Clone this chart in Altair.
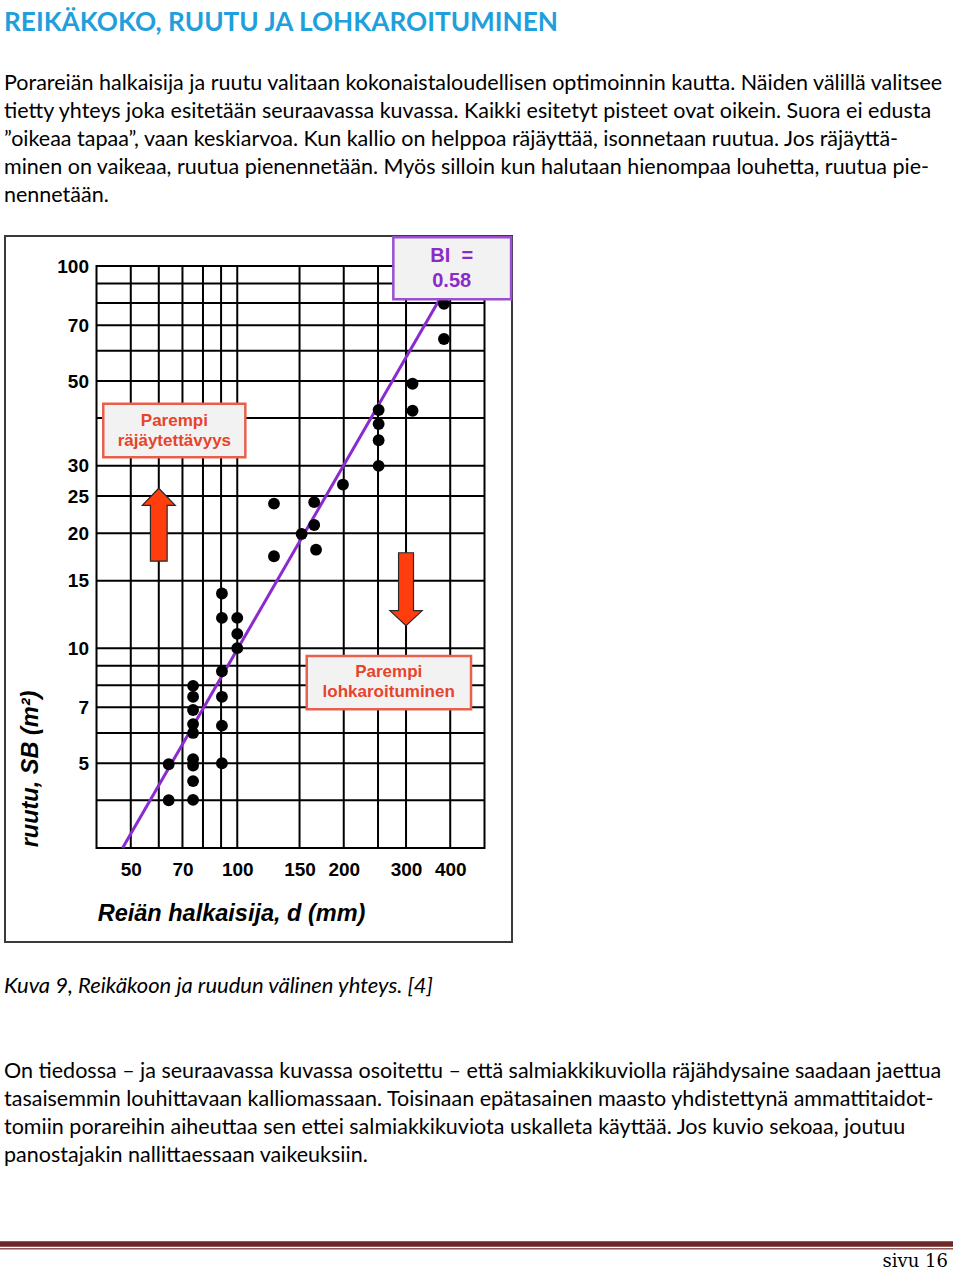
import altair as alt
import pandas as pd

# ---------------- data ----------------
d_mm = [384, 384, 313, 313, 251, 251, 251, 251, 199, 127, 127, 165, 165, 167, 152,
        90.5, 90.5, 100, 100, 100, 90.5, 90.5, 90.5, 90.5,
        75, 75, 75, 75, 75, 75, 75, 75, 75, 64, 64]
sb_m2 = [79.6, 64.4, 49.2, 41.8, 42.0, 38.6, 35.0, 30.0, 26.8, 23.9, 17.4, 24.1, 21.0, 18.1, 19.9,
         13.9, 12.0, 12.0, 10.9, 10.0, 8.7, 7.46, 6.27, 5.0,
         7.97, 7.46, 6.89, 6.33, 6.0, 5.12, 4.93, 4.49, 4.01, 4.97, 4.0]

trend_d = [47.4, 423]
trend_sb = [3, 100]

x_labels = [50, 70, 100, 150, 200, 300, 400]
x_grid = [50, 60, 70, 80, 90, 100, 150, 200, 250, 300, 400]
y_labels = [5, 7, 10, 15, 20, 25, 30, 50, 70, 100]
y_grid = [4, 5, 6, 7, 8, 9, 10, 15, 20, 25, 30, 40, 50, 60, 70, 80, 90]

title_text = "REIKÄKOKO, RUUTU JA LOHKAROITUMINEN"
para1 = [
    "Porareiän halkaisija ja ruutu valitaan kokonaistaloudellisen optimoinnin kautta. Näiden välillä valitsee",
    "tietty yhteys joka esitetään seuraavassa kuvassa. Kaikki esitetyt pisteet ovat oikein. Suora ei edusta",
    "”oikeaa tapaa”, vaan keskiarvoa. Kun kallio on helppoa räjäyttää, isonnetaan ruutua. Jos räjäyttä-",
    "minen on vaikeaa, ruutua pienennetään. Myös silloin kun halutaan hienompaa louhetta, ruutua pie-",
    "nennetään.",
]
caption = "Kuva 9, Reikäkoon ja ruudun välinen yhteys. [4]"
para2 = [
    "On tiedossa – ja seuraavassa kuvassa osoitettu – että salmiakkikuviolla räjähdysaine saadaan jaettua",
    "tasaisemmin louhittavaan kalliomassaan. Toisinaan epätasainen maasto yhdistettynä ammattitaidot-",
    "tomiin porareihin aiheuttaa sen ettei salmiakkikuviota uskalleta käyttää. Jos kuvio sekoaa, joutuu",
    "panostajakin nallittaessaan vaikeuksiin.",
]
page_label = "sivu 16"
x_title = "Reiän halkaisija, d (mm)"
y_title = "ruutu, SB (m²)"

# annotation boxes (data coordinates)
box_x1 = [276.2, 41.8, 157.2]
box_x2 = [594.4, 105.4, 458.0]
box_y1 = [81.8, 31.6, 6.92]
box_y2 = [118.9, 43.6, 9.54]
box_stroke = ["#9a4fd0", "#e8604c", "#e8604c"]

ann_text = ["BI \u00a0=", "0.58", "Parempi", "räjäytettävyys", "Parempi", "lohkaroituminen"]
ann_x = [403.9, 403.9, 66.4, 66.4, 268.0, 268.0]
ann_y = [106.2, 91.4, 39.4, 34.9, 8.65, 7.67]
ann_color = ["#8a2bc8", "#8a2bc8", "#e8432b", "#e8432b", "#e8432b", "#e8432b"]
ann_size = [20, 20, 17, 17, 17, 17]

arrow_x = [60, 300]
arrow_y = [21.04, 14.26]
UP = "M0,-1L0.452,-0.53L0.229,-0.53L0.229,1L-0.229,1L-0.229,-0.53L-0.452,-0.53Z"
DOWN = "M-0.205,-1L0.205,-1L0.205,0.584L0.442,0.584L0,1L-0.442,0.584L-0.205,0.584Z"

# ---------------- layout ----------------
L, T, W, H = 96.5, 266, 388, 582
xs = alt.Scale(type="log", domain=[40, 500], nice=False)
ys = alt.Scale(type="log", domain=[3, 100], nice=False)

xax = alt.Axis(values=x_labels, grid=False, ticks=False, tickSize=0, domain=False, title=None,
               format="d", labelFont="Liberation Sans", labelFontSize=19, labelFontWeight="bold",
               labelColor="black", labelPadding=12, labelOverlap=False, labelFlush=False)
yax = alt.Axis(values=y_labels, grid=False, ticks=False, tickSize=0, domain=False, title=None,
               format="d", labelFont="Liberation Sans", labelFontSize=19, labelFontWeight="bold",
               labelColor="black", labelPadding=8, labelOverlap=False, labelFlush=False)

layers = []

def txt(s, x, y, size, color="black", font="Lato", weight="normal", style="normal",
        align="left", baseline="alphabetic", angle=0):
    return alt.Chart(pd.DataFrame({"t": [s]})).mark_text(
        align=align, baseline=baseline, font=font, fontSize=size, fontWeight=weight,
        fontStyle=style, color=color, angle=angle
    ).encode(x=alt.value(x - L), y=alt.value(y - T), text="t:N")

# figure frame
layers.append(
    alt.Chart(pd.DataFrame({"a": [0]})).mark_rect(fill="white", fillOpacity=0, stroke="#3a3a3a", strokeWidth=2)
    .encode(x=alt.value(5 - L), x2=alt.value(512 - L), y=alt.value(236 - T), y2=alt.value(942 - T))
)

# grid lines
layers.append(
    alt.Chart(pd.DataFrame({"v": x_grid})).mark_rule(color="black", strokeWidth=2)
    .encode(x=alt.X("v:Q", scale=xs, axis=xax), y=alt.value(0), y2=alt.value(H))
)
layers.append(
    alt.Chart(pd.DataFrame({"v": y_grid})).mark_rule(color="black", strokeWidth=2)
    .encode(y=alt.Y("v:Q", scale=ys, axis=yax), x=alt.value(0), x2=alt.value(W))
)
# plot border
layers.append(
    alt.Chart(pd.DataFrame({"a": [0]})).mark_rect(fill="white", fillOpacity=0, stroke="black", strokeWidth=2)
    .encode(x=alt.value(0), x2=alt.value(W), y=alt.value(0), y2=alt.value(H))
)

# trend line
layers.append(
    alt.Chart(pd.DataFrame({"d": trend_d, "sb": trend_sb})).mark_line(color="#8a2bd0", strokeWidth=3)
    .encode(x=alt.X("d:Q", scale=xs, axis=xax), y=alt.Y("sb:Q", scale=ys, axis=yax))
)

# points
layers.append(
    alt.Chart(pd.DataFrame({"d": d_mm, "sb": sb_m2})).mark_circle(size=140, color="black", opacity=1)
    .encode(x=alt.X("d:Q", scale=xs, axis=xax), y=alt.Y("sb:Q", scale=ys, axis=yax))
)

# annotation boxes
layers.append(
    alt.Chart(pd.DataFrame({"x1": box_x1, "x2": box_x2, "y1": box_y1, "y2": box_y2, "s": box_stroke}))
    .mark_rect(fill="#f2f2f2", strokeWidth=2.5)
    .encode(x=alt.X("x1:Q", scale=xs, axis=xax), x2="x2:Q",
            y=alt.Y("y1:Q", scale=ys, axis=yax), y2="y2:Q",
            stroke=alt.Stroke("s:N", scale=None))
)

# annotation texts
layers.append(
    alt.Chart(pd.DataFrame({"t": ann_text, "x": ann_x, "y": ann_y, "c": ann_color, "f": ann_size}))
    .mark_text(font="Liberation Sans", fontWeight="bold", align="center", baseline="middle")
    .encode(x=alt.X("x:Q", scale=xs, axis=xax), y=alt.Y("y:Q", scale=ys, axis=yax),
            text="t:N", color=alt.Color("c:N", scale=None), size=alt.Size("f:Q", scale=None))
)

# arrows
for ax_, ay_, shp in [(arrow_x[0], arrow_y[0], UP), (arrow_x[1], arrow_y[1], DOWN)]:
    layers.append(
        alt.Chart(pd.DataFrame({"x": [ax_], "y": [ay_]}))
        .mark_point(shape=shp, size=5329, filled=True, fill="#ff3d0d", stroke="#2a2a2a",
                    strokeWidth=1.2, opacity=1)
        .encode(x=alt.X("x:Q", scale=xs, axis=xax), y=alt.Y("y:Q", scale=ys, axis=yax))
    )

# axis titles
layers.append(txt(x_title, 97.7, 920.5, 23.5, font="Liberation Sans", weight="bold", style="italic"))
layers.append(txt(y_title, 31, 769, 23.5, font="Liberation Sans", weight="bold", style="italic",
                  align="center", baseline="middle", angle=270))

# page text
layers.append(txt(title_text, 4, 30.7, 26.2, color="#1f9fdc", weight="bold"))
for i, line in enumerate(para1):
    layers.append(txt(line, 4, 90 + 28 * i, 21.5))
layers.append(txt(caption, 4, 992.5, 22, style="italic"))
for i, line in enumerate(para2):
    layers.append(txt(line, 4, 1077.5 + 28 * i, 21.5))

# footer
layers.append(
    alt.Chart(pd.DataFrame({"a": [0]})).mark_rect(color="#6e2626")
    .encode(x=alt.value(0 - L), x2=alt.value(953 - L), y=alt.value(1241.3 - T), y2=alt.value(1246.7 - T))
)
layers.append(
    alt.Chart(pd.DataFrame({"a": [0]})).mark_rect(color="#8c5a5a")
    .encode(x=alt.value(0 - L), x2=alt.value(953 - L), y=alt.value(1248 - T), y2=alt.value(1249.6 - T))
)
layers.append(txt(page_label, 948, 1267, 18, font="DejaVu Serif", align="right"))

chart = alt.layer(*layers).properties(
    width=W, height=H,
    autosize=alt.AutoSizeParams(type="none"),
    padding={"left": L, "top": T, "right": 960 - L - W, "bottom": 1274 - T - H},
    background="white",
).configure_view(stroke=None)

chart.save("out.html", embed_options={"renderer": "svg", "actions": False})
